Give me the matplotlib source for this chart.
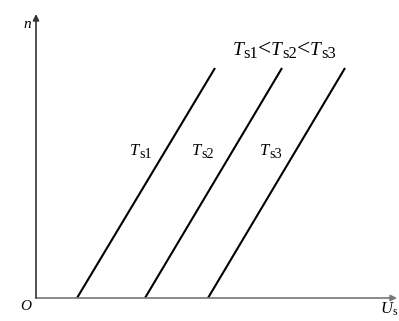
import matplotlib.pyplot as plt
from matplotlib.transforms import offset_copy

plt.rcParams['font.family'] = ['Liberation Serif', 'DejaVu Serif']
plt.rcParams['mathtext.fontset'] = 'custom'
plt.rcParams['mathtext.rm'] = 'Liberation Serif'
plt.rcParams['mathtext.it'] = 'Liberation Serif:italic'

# n–Us characteristics for three settings of Ts
subs = ["s1", "s2", "s3"]
us_start = [4.1, 10.9, 17.2]
us_end = [17.9, 24.6, 30.9]
n_start = [0.0, 0.0, 0.0]
n_end = [23.0, 23.0, 23.0]
label_x = [10.5, 16.7, 23.5]
label_y = 14.3

xmax = 36.1
ymax = 28.4

fig = plt.figure(figsize=(3.99, 3.21), dpi=100)
ax = fig.add_axes([36 / 399, 23 / 321, 361 / 399, 284 / 321])
ax.set_xlim(0, xmax)
ax.set_ylim(0, ymax)
ax.axis("off")
renderer = fig.canvas.get_renderer()


def pieces_text(x, y, pieces):
    # lay out (text, style, size, dy) pieces side by side, centred on x
    made = []
    total = 0.0
    for s, style, size, dy in pieces:
        t = ax.text(x, y, s, fontsize=size, fontstyle=style,
                    ha="left", va="baseline")
        w = t.get_window_extent(renderer).width
        made.append((t, w, dy))
        total += w
    dx = -total / 2
    for t, w, dy in made:
        t.set_transform(offset_copy(ax.transData, fig=fig, x=dx, y=dy, units="dots"))
        dx += w


def ts(sub, size):
    return [("T", "italic", size, 0), (sub, "normal", size * 0.85, -3)]


for i in range(3):
    ax.plot([us_start[i], us_end[i]], [n_start[i], n_end[i]],
            color="black", lw=1.5, solid_capstyle="butt")
    pieces_text(label_x[i], label_y, ts(subs[i], 12))

# axes with arrow heads
ax.annotate("", xy=(xmax, 0), xytext=(0, 0),
            arrowprops=dict(arrowstyle="-|>", color="#777777", lw=1.2,
                            mutation_scale=9, shrinkA=0, shrinkB=0),
            annotation_clip=False)
ax.annotate("", xy=(0, ymax), xytext=(0, 0),
            arrowprops=dict(arrowstyle="-|>", color="#333333", lw=1.2,
                            mutation_scale=9, shrinkA=0, shrinkB=0),
            annotation_clip=False)

lt = [("<", "normal", 17, 0)]
title = ts("s1", 14) + lt + ts("s2", 14) + lt + ts("s3", 14)
pieces_text(24.8, 24.3, title)

ax.text(-0.5, 27.3, "n", fontsize=11, fontstyle="italic", ha="right", va="center")
ax.text(-0.5, -0.8, "O", fontsize=11, fontstyle="italic", ha="right", va="center")
ax.text(34.4, -1.1, r"$U_{\mathrm{s}}$", fontsize=12, ha="left", va="center")

fig.savefig("out.png", dpi=100)
